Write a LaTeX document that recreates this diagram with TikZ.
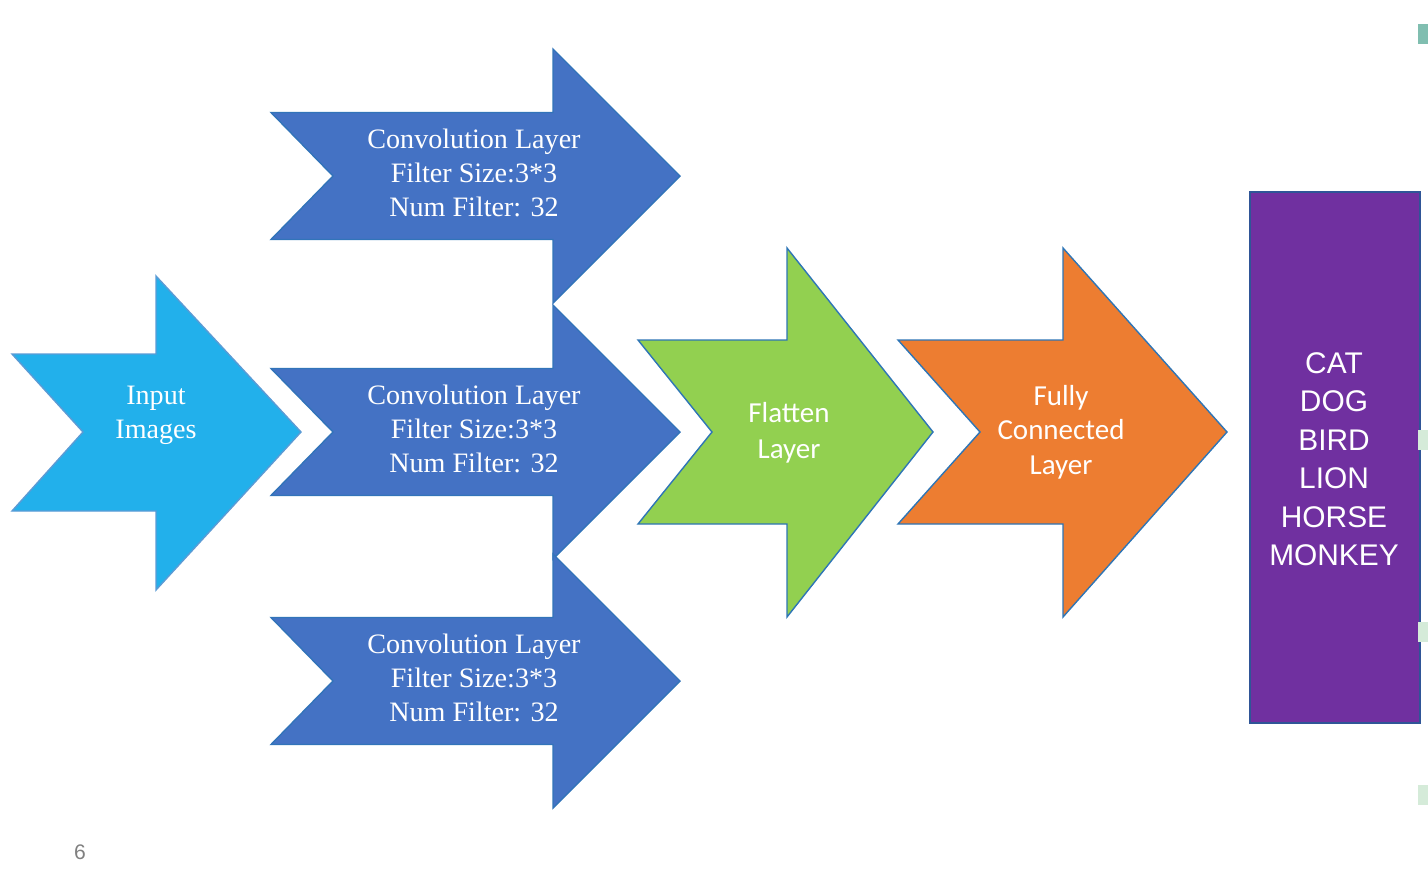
\documentclass[tikz,border=0pt]{standalone}
\usepackage{fontspec}
\setmainfont{Liberation Serif}
\newfontfamily\calibrifont{Carlito}
\newfontfamily\labelfont{Liberation Sans}
\usepackage{xcolor}
\definecolor{InputBlue}{RGB}{34,176,235}
\definecolor{ConvBlue}{RGB}{68,114,196}
\definecolor{FlatGreen}{RGB}{146,208,80}
\definecolor{FcOrange}{RGB}{237,125,49}
\definecolor{OutPurple}{RGB}{112,48,160}
\definecolor{EdgeBlue}{RGB}{46,117,182}
\definecolor{PaleEdge}{RGB}{91,155,213}
\definecolor{DarkEdge}{RGB}{47,85,151}
\definecolor{TealMark}{RGB}{128,190,176}
\definecolor{MintMark}{RGB}{213,235,217}
\usetikzlibrary{positioning}

\begin{document}
\begin{tikzpicture}[
		x={(0.02cm,0)}, y={(0,-0.02cm)},
		% style of the arrow bodies
		layerArrow/.style={
			line width=0.8pt,
			line join=miter
		},
		% serif text inside the arrows
		serifText/.style={
			align=center,
			text=white,
			font=\fontsize{16}{19.4}\selectfont,
			inner sep=0pt
		},
		% sans text inside the arrows
		sansText/.style={
			align=center,
			text=white,
			font=\calibrifont\fontsize{16.5}{19.6}\selectfont,
			inner sep=0pt
		},
		sideMark/.style={
			draw=none,
			minimum width=0.2cm,
			minimum height=0.4cm,
			inner sep=0pt
		}
		]
		\useasboundingbox (0,0) rectangle (1428,872);
		
		% Input arrow
		\draw[layerArrow, fill=InputBlue, draw=PaleEdge]
			(12,354) -- (156,354) -- (156,276) -- (301,432) -- (156,590)
			-- (156,511) -- (12,511) -- (83,432) -- cycle;
		\node[serifText] (input) at (156,415) {Input\\Images};
		
		% Convolution arrows
		\foreach \cy/\nm in {176/convA, 432/convB, 681/convC}{
			\draw[layerArrow, fill=ConvBlue, draw=EdgeBlue!80!ConvBlue]
				(271,\cy-63.5) -- (553,\cy-63.5) -- (553,\cy-127) -- (680,\cy)
				-- (553,\cy+127) -- (553,\cy+63.5) -- (271,\cy+63.5)
				-- (333,\cy) -- cycle;
			\node[serifText] (\nm) at (474,\cy-3)
				{Convolution Layer\\Filter Size:3*3\\Num Filter: 32};
		}
		
		% Flatten arrow
		\draw[layerArrow, fill=FlatGreen, draw=EdgeBlue]
			(638,340) -- (787,340) -- (787,248) -- (933,432) -- (787,617)
			-- (787,524) -- (638,524) -- (712,432) -- cycle;
		\node[sansText, font=\calibrifont\fontsize{16.5}{20.5}\selectfont]
			(flat) at (789,433) {Flatten\\Layer};
		
		% Fully connected arrow
		\draw[layerArrow, fill=FcOrange, draw=EdgeBlue]
			(898,340) -- (1063,340) -- (1063,248) -- (1227,432) -- (1063,617)
			-- (1063,524) -- (898,524) -- (980,432) -- cycle;
		\node[sansText] (fc) at (1061,432) {Fully\\Connected\\Layer};
		
		% Output classes
		\draw[line width=0.8pt, fill=OutPurple, draw=DarkEdge]
			(1250,192) rectangle (1420,723);
		\node[align=center, text=white, inner sep=0pt,
			font=\labelfont\fontsize{17}{21.9}\selectfont]
			(classes) at (1334,459) {CAT\\DOG\\BIRD\\LION\\HORSE\\MONKEY};
		
		% marks on the right border
		\node[sideMark, fill=TealMark, anchor=north west] (markA) at (1418,24) {};
		\node[sideMark, fill=MintMark, anchor=north west] (markB) at (1418,430) {};
		\node[sideMark, fill=MintMark, anchor=north west] (markC) at (1418,622) {};
		\node[sideMark, fill=MintMark, anchor=north west] (markD) at (1418,785) {};
		
		% slide number
		\node[text=gray, font=\labelfont\fontsize{12}{14}\selectfont]
			(pagenum) at (80,852) {6};
		
	\end{tikzpicture}
\end{document}
